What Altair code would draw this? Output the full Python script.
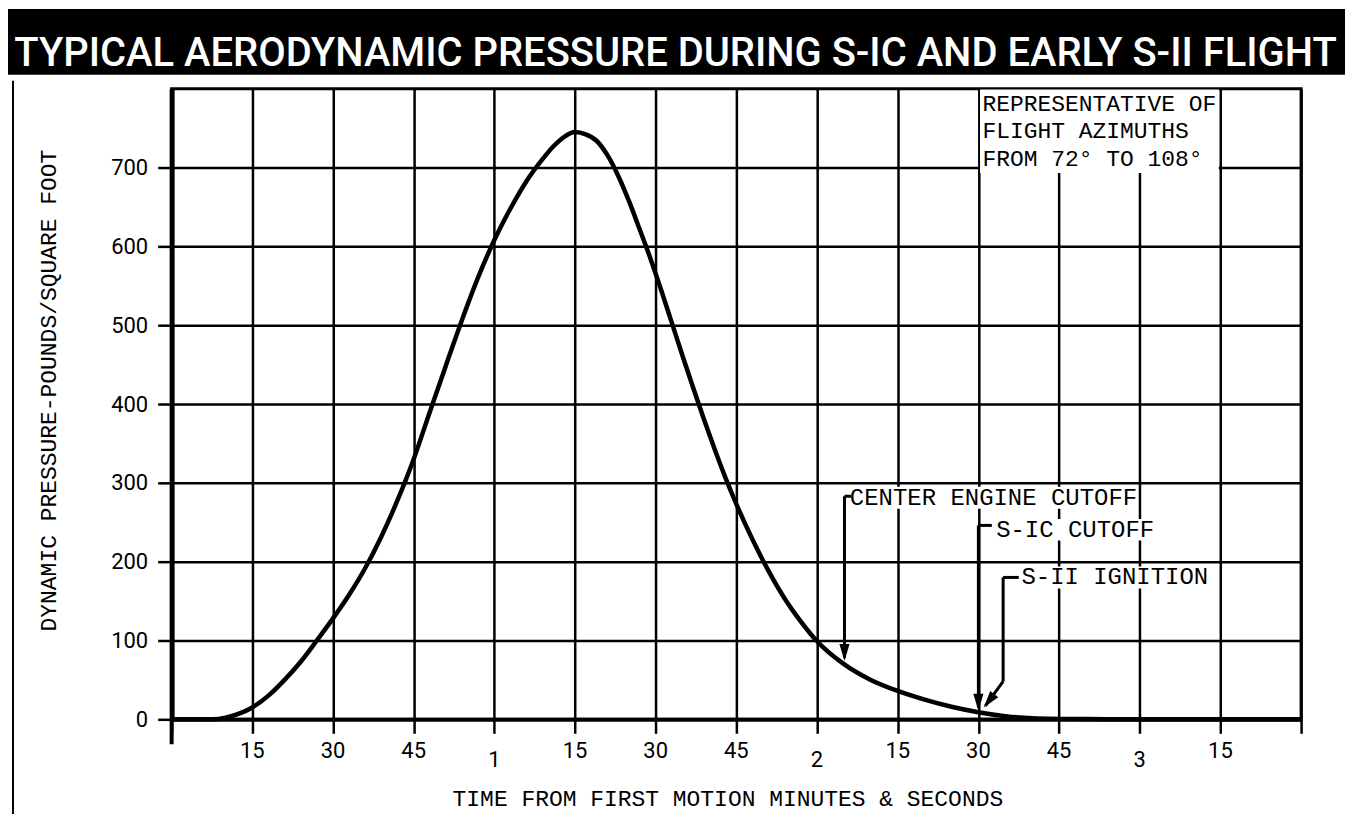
import altair as alt
import pandas as pd

# ---- data ----
t_sec = [0, 5, 7.6, 10, 12, 15, 18, 21, 24, 27, 30, 33, 36, 39, 42, 45, 48, 51, 54, 57, 60,
         63, 66, 69, 71, 73, 75, 77, 79, 81, 83, 85, 87, 89, 91, 93, 95, 97, 99, 101, 103,
         105, 108, 111, 114, 117, 120, 125, 130, 135, 140, 145, 150, 155, 160, 170, 180,
         195, 210]
q_psf = [0, 0, 0, 2, 6, 15, 30, 50, 73, 100, 128, 158, 192, 232, 278, 330, 390, 449, 507, 561, 608,
         648, 683, 711, 727, 739, 745, 742, 734, 716, 690, 658, 622, 585, 545, 503, 461, 420, 380, 342, 306,
         273, 228, 188, 153, 124, 99, 70, 50, 36, 25, 16, 9, 4, 1.5, 0.3, 0,
         0, 0]

tick_sec = [15, 30, 45, 60, 75, 90, 105, 120, 135, 150, 165, 180, 195]
tick_lab = ["15", "30", "45", "1", "15", "30", "45", "2", "15", "30", "45", "3", "15"]

y_ticks = [0, 100, 200, 300, 400, 500, 600, 700]

ann_text = ["CENTER ENGINE CUTOFF", "S-IC CUTOFF", "S-II IGNITION"]
ann_t = [126.1, 153.3, 158.0]
ann_q = [281, 240, 180]
ann_bg_t1 = [125.8, 152.8, 157.6]
ann_bg_t2 = [179.5, 183.2, 193.3]
ann_bg_q1 = [267, 227, 166]
ann_bg_q2 = [295, 254, 194]

seg_t1 = [125.1, 125.1, 150.0, 150.0, 154.6, 154.6, 154.6]
seg_q1 = [283, 283, 246, 246, 180, 180, 48]
seg_t2 = [126.3, 125.1, 152.5, 150.0, 157.5, 154.6, 151.3]
seg_q2 = [283, 78, 246, 15, 180, 48, 17]

head_t = [125.1, 150.0, 151.0]
head_q = [74, 11, 15]
head_ang = [0, 0, 38]

note_text = "REPRESENTATIVE OF\nFLIGHT AZIMUTHS\nFROM 72° TO 108°"
note_box_t = [150.3, 194.7]
note_box_q = [693, 799]

title_text = "TYPICAL  AERODYNAMIC  PRESSURE  DURING  S-IC  AND  EARLY  S-II  FLIGHT"
x_title = "TIME FROM FIRST MOTION MINUTES & SECONDS"
y_title = "DYNAMIC PRESSURE-POUNDS/SQUARE FOOT"

MONO = "Liberation Mono"
NUM = "Roboto"
W, H = 1132, 632

xs = alt.Scale(domain=[0, 210], nice=False, zero=False)
ys = alt.Scale(domain=[0, 800], nice=False)

curve_df = pd.DataFrame({"t": t_sec, "q": q_psf})

curve = alt.Chart(curve_df).mark_line(
    color="black", strokeWidth=4.5, interpolate="monotone"
).encode(
    x=alt.X("t:Q", scale=xs, axis=alt.Axis(
        values=list(range(0, 211, 15)), labels=False, tickSize=14, tickWidth=2.5,
        tickColor="black", grid=True, gridColor="black", gridWidth=2.5, gridOpacity=1,
        domainWidth=4, domainColor="black", title=x_title, titleFont=MONO,
        titleFontSize=23, titleFontWeight="normal", titleColor="black",
        titleX=557, titleY=79, titleBaseline="middle", titleAlign="center")),
    y=alt.Y("q:Q", scale=ys, axis=alt.Axis(
        values=y_ticks, labelFont=NUM, labelFontSize=22, labelColor="black",
        labelPadding=10, tickSize=14, tickWidth=2.5, tickColor="black",
        grid=True, gridColor="black", gridWidth=2.5, gridOpacity=1,
        domainWidth=5, domainColor="black", title=y_title, titleFont=MONO,
        titleFontSize=23, titleFontWeight="normal", titleColor="black",
        titleX=-123, titleY=302, titleAngle=-90, titleBaseline="middle",
        titleAlign="center")),
)

note_box = alt.Chart(pd.DataFrame({
    "t1": [note_box_t[0]], "t2": [note_box_t[1]], "q1": [note_box_q[0]], "q2": [note_box_q[1]]
})).mark_rect(color="white").encode(
    x=alt.X("t1:Q", scale=xs), x2="t2:Q", y=alt.Y("q1:Q", scale=ys), y2="q2:Q")

note = alt.Chart(pd.DataFrame({"t": [150], "q": [800], "s": [note_text]})).mark_text(
    align="left", baseline="alphabetic", dx=4, dy=22, font=MONO, fontSize=23,
    lineBreak="\n", lineHeight=27.5, color="black"
).encode(x=alt.X("t:Q", scale=xs), y=alt.Y("q:Q", scale=ys), text="s:N")

ann_bg = alt.Chart(pd.DataFrame({
    "t1": ann_bg_t1, "t2": ann_bg_t2, "q1": ann_bg_q1, "q2": ann_bg_q2
})).mark_rect(color="white").encode(
    x=alt.X("t1:Q", scale=xs), x2="t2:Q", y=alt.Y("q1:Q", scale=ys), y2="q2:Q")

segs = alt.Chart(pd.DataFrame({
    "t1": seg_t1, "q1": seg_q1, "t2": seg_t2, "q2": seg_q2
})).mark_rule(color="black", strokeWidth=3).encode(
    x=alt.X("t1:Q", scale=xs), y=alt.Y("q1:Q", scale=ys), x2="t2:Q", y2="q2:Q")

heads = alt.Chart(pd.DataFrame({"t": head_t, "q": head_q, "a": head_ang})).mark_point(
    shape="M-0.3,-1L0.3,-1L0,0Z", filled=True, color="black", opacity=1, size=1156,
    strokeWidth=0
).encode(x=alt.X("t:Q", scale=xs), y=alt.Y("q:Q", scale=ys),
         angle=alt.Angle("a:Q", scale=None))

ann = alt.Chart(pd.DataFrame({"t": ann_t, "q": ann_q, "s": ann_text})).mark_text(
    align="left", baseline="middle", font=MONO, fontSize=24, color="black"
).encode(x=alt.X("t:Q", scale=xs), y=alt.Y("q:Q", scale=ys), text="s:N")

tick_df = pd.DataFrame({"t": tick_sec, "lab": tick_lab})
tick_sec_labels = alt.Chart(tick_df).transform_filter("length(datum.lab) > 1").mark_text(
    align="center", baseline="alphabetic", font=NUM, fontSize=22, color="black"
).encode(x=alt.X("t:Q", scale=xs), y=alt.value(H + 39), text="lab:N")
tick_min_labels = alt.Chart(tick_df).transform_filter("length(datum.lab) == 1").mark_text(
    align="center", baseline="alphabetic", font=NUM, fontSize=22, color="black"
).encode(x=alt.X("t:Q", scale=xs), y=alt.value(H + 48), text="lab:N")

zero_tick = alt.Chart(pd.DataFrame({"t": [0]})).mark_rule(color="black", strokeWidth=4).encode(
    x=alt.X("t:Q", scale=xs), y=alt.value(H), y2=alt.value(H + 25))

title_bar = alt.Chart(pd.DataFrame({"k": [0]})).mark_rect(color="black").encode(
    x=alt.value(-164), x2=alt.value(1176), y=alt.value(-80), y2=alt.value(-14))

title = alt.Chart(pd.DataFrame({"s": [title_text]})).mark_text(
    align="center", baseline="alphabetic", font=NUM, fontSize=40, fontWeight=500,
    color="white"
).encode(x=alt.value(505), y=alt.value(-23), text="s:N")

page_edge = alt.Chart(pd.DataFrame({"k": [0]})).mark_rule(color="black", strokeWidth=2).encode(
    x=alt.value(-159), y=alt.value(-8), y2=alt.value(727))

chart = alt.layer(
    curve, note_box, note, ann_bg, segs, heads, ann, tick_sec_labels, tick_min_labels,
    zero_tick, title_bar, title, page_edge
).properties(
    width=W, height=H, background="white",
    padding={"left": 164, "top": 80, "right": 44, "bottom": 97},
    autosize=alt.AutoSizeParams(type="none"),
).configure_view(stroke="black", strokeWidth=3)

chart.save("out.html", embed_options={"renderer": "svg", "actions": False})
